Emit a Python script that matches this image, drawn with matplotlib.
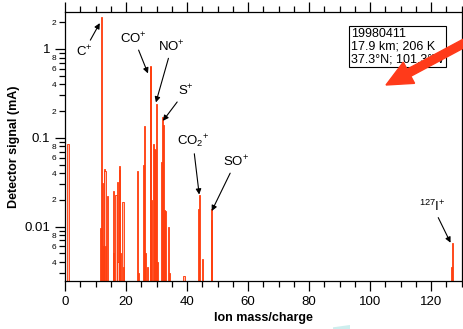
import matplotlib
matplotlib.use("Agg")
import matplotlib.pyplot as plt
import matplotlib.patches as mpatches
from matplotlib.ticker import LogLocator, FuncFormatter, MultipleLocator, NullFormatter

plt.rcParams['font.family'] = ['Liberation Sans', 'DejaVu Sans']
plt.rcParams['mathtext.fontset'] = 'custom'
plt.rcParams['mathtext.rm'] = 'Liberation Sans'
plt.rcParams['mathtext.it'] = 'Liberation Sans:italic'

# mass spectrum: ion mass/charge and detector signal (mA)
masses = [1.0,
          11.7, 12.0, 12.2, 12.5, 13.0, 13.1, 13.4, 14.0,
          15.8, 16.0, 16.7, 17.1, 17.4, 17.9, 18.0, 18.3, 19.0, 19.2,
          23.8, 24.1, 25.7, 26.2, 26.5, 27.0, 27.9, 28.1, 28.3,
          29.1, 29.3, 29.8, 30.0, 30.3, 31.6, 32.0, 32.2, 32.7, 33.0, 34.0, 34.3,
          39.0, 43.8, 44.0, 45.0, 47.9, 48.1,
          126.7, 127.0]
signal = [0.085,
          0.0096, 2.3, 0.031, 0.006, 0.044, 0.042, 0.006, 0.022,
          0.025, 0.005, 0.023, 0.032, 0.004, 0.048, 0.043, 0.005, 0.019, 0.0035,
          0.042, 0.003, 0.05, 0.136, 0.005, 0.0035, 0.65, 0.62, 0.02,
          0.085, 0.075, 0.073, 0.24, 0.004, 0.054, 0.17, 0.14, 0.0155, 0.015, 0.010, 0.003,
          0.0028, 0.016, 0.023, 0.0043, 0.012, 0.016,
          0.0035, 0.0066]

# peak labels: text, arrow tip (mass, signal), text position
ion_labels = ['C$^{+}$', 'CO$^{+}$', 'NO$^{+}$', 'S$^{+}$', 'CO$_{2}$$^{+}$', 'SO$^{+}$', '$^{127}$I$^{+}$']
ion_tips = [(11.4, 1.95), (27.2, 0.53), (29.8, 0.25), (32.1, 0.155), (44.0, 0.023), (48.1, 0.015), (126.4, 0.0066)]
ion_text = [(6.2, 0.93), (22.6, 1.31), (35.0, 1.06), (39.6, 0.34), (41.9, 0.092), (56.0, 0.054), (120.5, 0.0171)]

info_lines = ['19980411', '17.9 km; 206 K', '37.3°N; 101.3°W']

ymin, ymax = 0.00245, 2.6
red = '#ff3300'
pink = '#ffb8a8'

fig = plt.figure(figsize=(4.63, 3.29), dpi=100)
ax = fig.add_axes([0.1404, 0.1459, 0.8564, 0.8176])

base = 1e-3
ax.bar(masses, [s - base for s in signal], bottom=base, width=0.38,
       color=pink, edgecolor=red, linewidth=0.6, zorder=2)

ax.set_yscale('log')
ax.set_xlim(0, 130)
ax.set_ylim(ymin, ymax)

# y axis: decades labelled large, 2/4/6/8 labelled small
ax.yaxis.set_major_locator(LogLocator(base=10, subs=(1.0,)))
ax.yaxis.set_minor_locator(LogLocator(base=10, subs=range(2, 10)))
ax.yaxis.set_major_formatter(FuncFormatter(lambda v, p: f'{v:g}'))


def minor_label(v, p):
    mant = round(v / 10 ** int(f'{v:e}'.split('e')[1]))
    return str(mant) if mant in (2, 4, 6, 8) else ''


ax.yaxis.set_minor_formatter(FuncFormatter(minor_label))
ax.xaxis.set_major_locator(MultipleLocator(20))
ax.xaxis.set_minor_locator(MultipleLocator(5))
ax.xaxis.set_minor_formatter(NullFormatter())

ax.tick_params(axis='both', which='both', direction='out', top=True, right=True, width=0.9)
ax.tick_params(axis='both', which='major', length=7, labelsize=9.5)
ax.tick_params(axis='x', which='minor', length=4)
ax.tick_params(axis='y', which='minor', length=4, labelsize=6, pad=2)
ax.tick_params(axis='x', which='major', pad=4)
for sp in ax.spines.values():
    sp.set_linewidth(0.9)

ax.set_xlabel('Ion mass/charge', fontsize=9, fontweight='bold', labelpad=3)
ax.set_ylabel('Detector signal (mA)', fontsize=9, fontweight='bold', labelpad=3)

for lab, tip, txt in zip(ion_labels, ion_tips, ion_text):
    ax.annotate(lab, xy=tip, xytext=txt, ha='center', va='center', fontsize=9.5,
                arrowprops=dict(arrowstyle='-|>', color='black', lw=0.8,
                                mutation_scale=8, shrinkA=1, shrinkB=0))

ax.text(0.722, 0.94, '\n'.join(info_lines), transform=ax.transAxes,
        ha='left', va='top', fontsize=9, linespacing=1.05,
        bbox=dict(boxstyle='square,pad=0.15', facecolor='white', edgecolor='black', lw=0.8))

# big pointer arrow in the top right corner
pointer = mpatches.FancyArrow(4.72, 2.90, -0.86, -0.46, width=0.08, head_width=0.24,
                              head_length=0.26, length_includes_head=True,
                              color='#ff3a1a', transform=fig.dpi_scale_trans)
fig.add_artist(pointer)
fig.add_artist(mpatches.Polygon([(3.33, 0.017), (3.50, 0.04), (3.50, 0.0), (3.33, 0.0)],
                                closed=True, facecolor='#cdeeee', linewidth=0,
                                transform=fig.dpi_scale_trans))

fig.savefig('out.png', dpi=100)
